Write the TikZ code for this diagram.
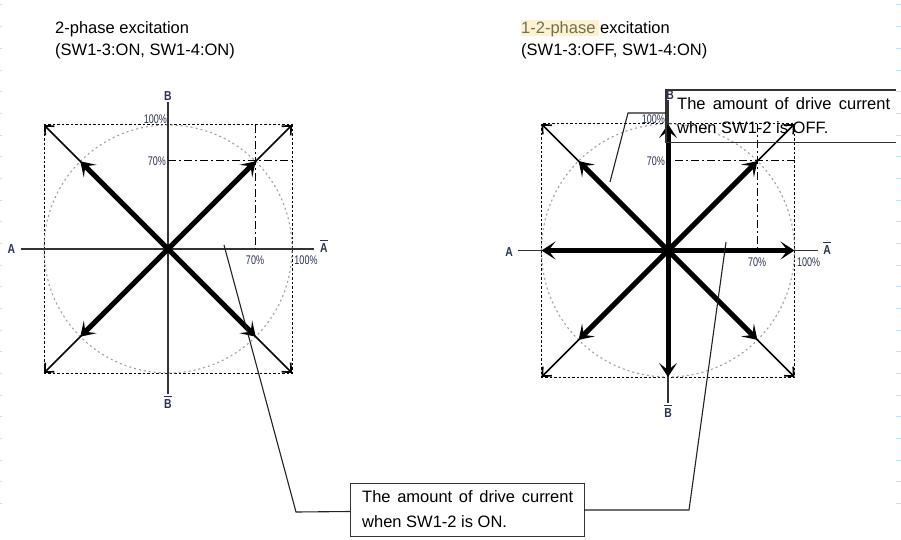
\documentclass[tikz,border=0pt]{standalone}
\usepackage{fontspec}
\setmainfont{Liberation Sans}
\usetikzlibrary{arrows.meta}
\definecolor{axisgray}{HTML}{333333}
\definecolor{lbl}{HTML}{2B3350}
\definecolor{tickblue}{HTML}{BFE3F5}
\definecolor{hl}{HTML}{FDF1CF}
\definecolor{hltext}{HTML}{6F6F55}
\definecolor{leadc}{HTML}{222222}
\newcommand{\ovl}[1]{$\overline{\hbox{#1}\rule{0pt}{10pt}}$}
\begin{document}
\begin{tikzpicture}[x=1pt,y=-1pt,
  sq/.style={dash pattern=on 2.5pt off 2pt, line width=1pt},
  circ/.style={dash pattern=on 2pt off 3pt, line width=1.1pt, draw=gray!75},
  ax/.style={line width=1.2pt, draw=axisgray},
  dd/.style={dash pattern=on 8pt off 3pt on 2pt off 3pt, line width=1pt},
  thinarr/.style={line width=1.7pt, -{Straight Barb[length=7pt,width=13pt]}},
  thickarr/.style={line width=5pt, -{Stealth[length=14pt,width=18pt,inset=7pt]}},
  pct/.style={font=\fontsize{12.5}{12.5}\selectfont, text=lbl, inner sep=0pt},
  axl/.style={font=\fontsize{13}{13}\selectfont\bfseries, text=lbl, inner sep=0pt},
  title/.style={font=\fontsize{16.5}{20}\selectfont, inner sep=0pt, anchor=base west},
  call/.style={font=\fontsize{16.5}{20}\selectfont, inner sep=0pt, anchor=base west},
  box/.style={line width=1.4pt, draw=axisgray},
  leader/.style={line width=1.1pt, draw=leadc}
]
\fill[white] (0,0) rectangle (901,540);
\useasboundingbox (0,0) rectangle (901,540);
% screenshot edge ticks
\foreach \i in {0,...,23} {
  \draw[tickblue, line width=1pt] (896,5+21.67*\i) -- (901,5+21.67*\i);
  \draw[tickblue, line width=1pt] (0,5+21.67*\i) -- (1.5,5+21.67*\i);
}
% titles
\node[title] (t1a) at (55,33.5) {2-phase excitation};
\node[title] (t1b) at (55,56) {(SW1-3:ON, SW1-4:ON)};
\fill[hl] (520.5,20) rectangle (599,36.5);
\node[title] (t2a) at (521,33.5) {\textcolor{hltext}{1-2-phase} excitation};
\node[title] (t2b) at (521,56) {(SW1-3:OFF, SW1-4:ON)};

% ---------- left diagram ----------
\coordinate (C1) at (168,249);
\draw[sq] (44,125) rectangle (292,373);
\draw[circ] (C1) circle (124pt);
\draw[ax] (20.5,249) -- (314,249);
\draw[ax] (168,102) -- (168,394);
\draw[dd] (168,161) -- (292,161);
\draw[dd] (255.5,125) -- (255.5,249);
\node[axl] (A1) at (11.5,249) {\scalebox{0.8}[1]{A}};
\node[axl] (Ab1) at (324,246) {\scalebox{0.8}[1]{\ovl{A}}};
\node[axl] (B1) at (168,96) {\scalebox{0.8}[1]{B}};
\node[axl] (Bb1) at (168,402) {\scalebox{0.8}[1]{\ovl{B}}};
\node[pct, anchor=east] (p1a) at (167,119) {\scalebox{0.72}[1]{100\%}};
\node[pct, anchor=east] (p1b) at (166,161.5) {\scalebox{0.72}[1]{70\%}};
\node[pct] (p1c) at (255,260) {\scalebox{0.72}[1]{70\%}};
\node[pct] (p1d) at (306,260.5) {\scalebox{0.72}[1]{100\%}};
\foreach \p in {(44,125),(292,125),(44,373),(292,373)}
  \draw[thinarr] (C1) -- \p;
\foreach \p in {(255.7,161.3),(80.3,161.3),(80.3,336.7),(255.7,336.7)}
  \draw[thickarr] (C1) -- \p;

% ---------- right diagram ----------
\coordinate (C2) at (668,250.5);
\draw[sq] (541.5,124) rectangle (794.5,377);
\draw[circ] (C2) circle (126.5pt);
\draw[ax] (518,250.5) -- (818,250.5);
\draw[ax] (668,100) -- (668,403);
\draw[dd] (675,161) -- (794.5,161);
\draw[dd] (757.4,124) -- (757.4,250.5);
\node[axl] (A2) at (509,252) {\scalebox{0.8}[1]{A}};
\node[axl] (Ab2) at (827,248) {\scalebox{0.8}[1]{\ovl{A}}};
\node[axl] (B2) at (670,95) {\scalebox{0.8}[1]{B}};
\node[axl] (Bb2) at (668,411) {\scalebox{0.8}[1]{\ovl{B}}};
\node[pct, anchor=east] (p2a) at (665,119) {\scalebox{0.72}[1]{100\%}};
\node[pct, anchor=east] (p2b) at (665,161.5) {\scalebox{0.72}[1]{70\%}};
\node[pct] (p2c) at (757,262) {\scalebox{0.72}[1]{70\%}};
\node[pct] (p2d) at (808.5,262) {\scalebox{0.72}[1]{100\%}};
\foreach \p in {(541.5,124),(794.5,124),(541.5,377),(794.5,377)}
  \draw[thinarr] (C2) -- \p;
\foreach \p in {(757.4,161.1),(578.6,161.1),(578.6,339.9),(757.4,339.9),
                (541.5,250.5),(794.5,250.5),(668,124),(668,377)}
  \draw[thickarr] (C2) -- \p;

% ---------- callout: SW1-2 OFF ----------
\node[minimum width=230pt, minimum height=52pt, inner sep=0pt, anchor=north west] (offbox) at (666,90) {};
\draw[box] (offbox.north east) -- (offbox.north west) -- (offbox.south west) -- (offbox.south east);
\node[call] (offt1) at (677,110) {\makebox[213pt][s]{The amount of drive current}};
\node[call] (offt2) at (677,133.5) {when SW1-2 is OFF.};
\coordinate (o0) at (666,113);
\coordinate (o1) at (628,113);
\coordinate (o2) at (610,182);
\draw[leader] (o0) -- (o1) -- (o2);

% ---------- callout: SW1-2 ON ----------
\node[box, draw, minimum width=234pt, minimum height=53pt, inner sep=0pt, anchor=north west] (onbox) at (350,483) {};
\node[call] (ont1) at (362,502) {\makebox[211pt][s]{The amount of drive current}};
\node[call] (ont2) at (362,527.5) {when SW1-2 is ON.};
\coordinate (n0) at (350,511.5);
\coordinate (n1) at (296,512);
\coordinate (n2) at (224,245);
\draw[leader] (n0) -- (n1) -- (n2);
\coordinate (m0) at (584,510);
\coordinate (m1) at (689,510);
\coordinate (m2) at (726,242);
\draw[leader] (m0) -- (m1) -- (m2);
\end{tikzpicture}
\end{document}
